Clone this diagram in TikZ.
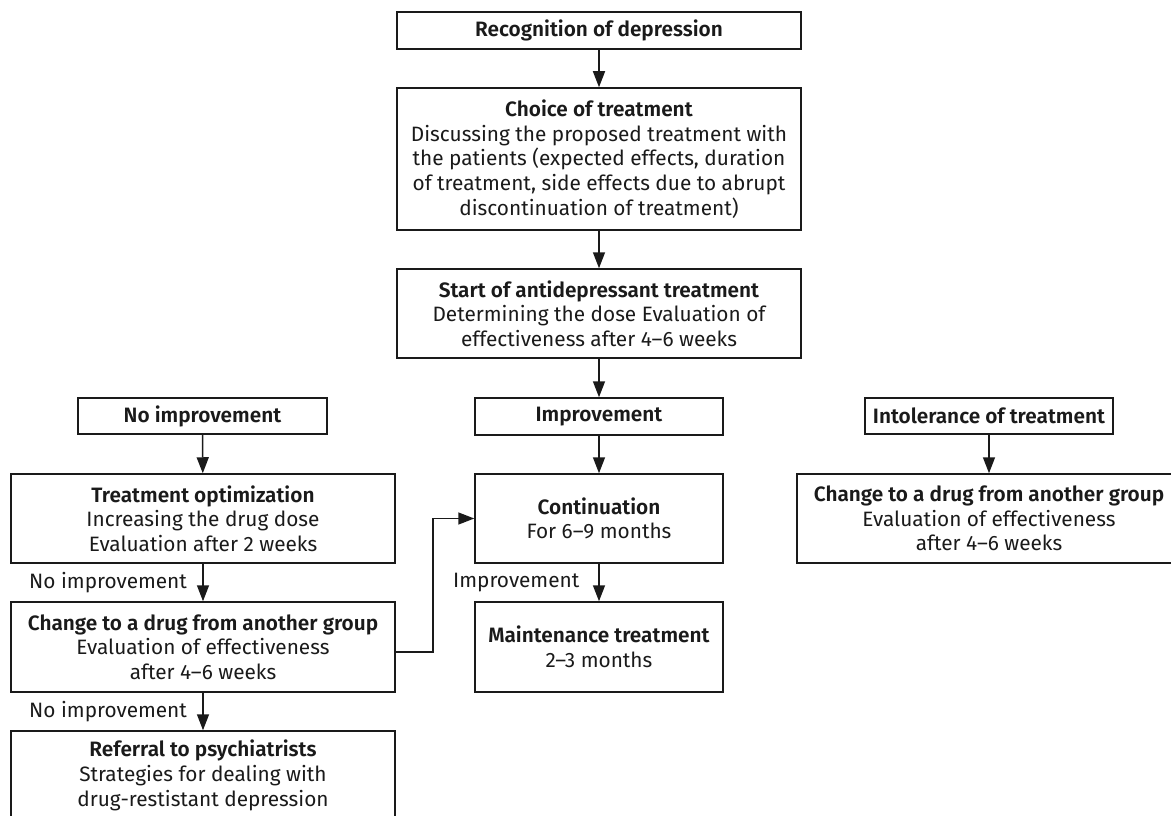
\documentclass[tikz,border=0pt]{standalone}
\usepackage{fontspec}
\setmainfont{Fira Sans}[BoldFont={Fira Sans SemiBold}]
\usetikzlibrary{arrows.meta}
\definecolor{ink}{HTML}{1A1A1A}
\begin{document}
\begin{tikzpicture}[x=1pt,y=-1pt,
  box/.style={draw=ink,line width=1.5pt,text=ink,inner sep=0pt,align=center,
    font=\fontsize{20.8}{24.7}\selectfont},
  lbl/.style={text=ink,inner sep=0pt,anchor=west,font=\fontsize{20.8}{24.7}\selectfont},
  arr/.style={draw=ink,line width=1.5pt,-{Triangle[length=16pt,width=12pt]}}]
\useasboundingbox (0,0) rectangle (1171,816);
\node[box,minimum width=404pt,minimum height=37pt] (rec) at (599,30.5) {\textbf{Recognition of depression}};
\node[box,minimum width=404pt,minimum height=142pt] (choice) at (599,159) {\textbf{Choice of treatment}\\Discussing the proposed treatment with\\the patients (expected effects, duration\\of treatment, side effects due to abrupt\\discontinuation of treatment)};
\node[box,minimum width=404pt,minimum height=89pt] (start) at (599,313.5) {\textbf{Start of antidepressant treatment}\\Determining the dose Evaluation of\\effectiveness after 4--6 weeks};
\node[box,minimum width=249pt,minimum height=36pt] (noimp) at (202.5,416) {\textbf{No improvement}};
\node[box,minimum width=248pt,minimum height=37pt] (imp) at (599,416.5) {\textbf{Improvement}};
\node[box,minimum width=248pt,minimum height=36pt] (intol) at (989,416) {\textbf{Intolerance of treatment}};
\node[box,minimum width=384pt,minimum height=89pt] (opt) at (203,518.5) {\textbf{Treatment optimization}\\Increasing the drug dose\\Evaluation after 2 weeks};
\node[box,minimum width=248pt,minimum height=89pt] (cont) at (599,518.5) {\textbf{Continuation}\\For 6--9 months};
\node[box,minimum width=384pt,minimum height=89pt] (chR) at (989,518.5) {\textbf{Change to a drug from another group}\\Evaluation of effectiveness\\after 4--6 weeks};
\node[box,minimum width=384pt,minimum height=90pt] (chL) at (203,647) {\textbf{Change to a drug from another group}\\Evaluation of effectiveness\\after 4--6 weeks};
\node[box,minimum width=248pt,minimum height=90pt] (maint) at (599,647) {\textbf{Maintenance treatment}\\2--3 months};
\node[box,minimum width=384pt,minimum height=89pt] (ref) at (203,775.5) {\textbf{Referral to psychiatrists}\\Strategies for dealing with\\drug-restistant depression};
\node[lbl] (l1) at (29,583) {No improvement};
\node[lbl] (l2) at (29,712) {No improvement};
\node[lbl] (l3) at (453,583) {Improvement};
\draw[arr] (rec) -- (choice);
\draw[arr] (choice) -- (start);
\draw[arr] (start) -- (imp);
\draw[arr] (noimp) -- (opt);
\draw[arr] (imp) -- (cont);
\draw[arr] (intol) -- (chR);
\draw[arr] (opt) -- (chL);
\draw[arr] (chL) -- (ref);
\draw[arr] (cont) -- (maint);
\coordinate (bend) at (433,652);
\draw[arr] (chL.east |- bend) -- (bend) |- (cont.west);
\end{tikzpicture}
\end{document}
